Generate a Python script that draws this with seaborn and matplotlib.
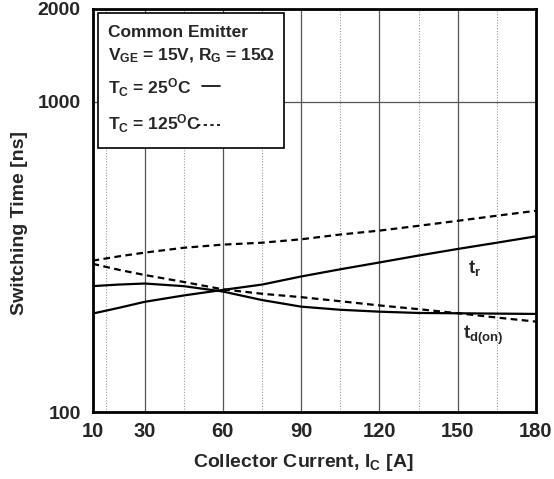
import numpy as np
import pandas as pd
import matplotlib
matplotlib.use("Agg")
import matplotlib.pyplot as plt
import seaborn as sns
from matplotlib.patches import Rectangle
from matplotlib.lines import Line2D
from matplotlib.ticker import FixedLocator, NullLocator

# ---- data ----
current = [10, 20, 30, 45, 60, 75, 90, 105, 120, 135, 150, 165, 180]
tr_25 = [208, 217, 227, 238, 248, 258, 274, 289, 304, 320, 336, 352, 369]
tdon_25 = [255, 258, 260, 255, 245, 230, 219, 214, 211, 209, 208.5, 208, 207.5]
tr_125 = [308, 318, 327, 339, 347, 352, 361, 374, 385, 399, 414, 430, 446]
tdon_125 = [301, 288, 277, 263, 249, 241, 235, 228, 221, 215, 208.6, 202, 196]

x_major = [10, 30, 60, 90, 120, 150, 180]
x_minor = [15, 45, 75, 105, 135, 165]
y_ticks = [100, 1000, 2000]

rows = []
for name, temp, vals in [("tr_25", "25", tr_25), ("tdon_25", "25", tdon_25),
                         ("tr_125", "125", tr_125), ("tdon_125", "125", tdon_125)]:
    for c, v in zip(current, vals):
        rows.append({"current": c, "time": v, "series": name, "temp": temp})
df = pd.DataFrame(rows)

sns.set_style("white")
plt.rcParams["font.family"] = ["Liberation Sans", "DejaVu Sans"]
plt.rcParams["font.weight"] = "bold"
plt.rcParams["mathtext.fontset"] = "custom"
plt.rcParams["mathtext.rm"] = "Liberation Sans:bold"
plt.rcParams["mathtext.it"] = "Liberation Sans:bold"
plt.rcParams["mathtext.bf"] = "Liberation Sans:bold"

fig = plt.figure(figsize=(5.54, 4.79), dpi=100)
ax = fig.add_axes([0.16697, 0.1392, 0.8005, 0.843])

sns.lineplot(data=df, x="current", y="time", units="series", style="temp",
             estimator=None, sort=False, color="black",
             dashes={"25": "", "125": (3, 2)}, linewidth=1.6,
             legend=False, ax=ax, zorder=4)

ax.set_yscale("log")
ax.set_xlim(10, 180)
ax.set_ylim(100, 2000)
ax.yaxis.set_major_locator(FixedLocator(y_ticks))
ax.yaxis.set_minor_locator(NullLocator())
ax.set_yticklabels([str(t) for t in y_ticks], fontsize=14, fontweight="bold")
ax.xaxis.set_major_locator(FixedLocator(x_major))
ax.xaxis.set_minor_locator(FixedLocator(x_minor))
ax.set_xticklabels([str(t) for t in x_major], fontsize=14.5, fontweight="bold")

ax.grid(which="major", axis="both", color="#555555", lw=0.9, ls="-", zorder=1)
ax.grid(which="minor", axis="x", color="#999999", lw=0.8, ls=(0, (1, 1.5)), zorder=1)
ax.set_axisbelow(True)
ax.tick_params(which="both", length=0)
ax.tick_params(axis="x", pad=7)
ax.tick_params(axis="y", pad=8.5)
for s in ax.spines.values():
    s.set_linewidth(2)
    s.set_color("black")

ax.set_xlabel("")
ax.set_ylabel("")
fig.text(303.3 / 554, (479 - 467) / 479, "Collector Current, I$_\\mathrm{C}$ [A]",
         fontsize=14, fontweight="bold", ha="center", va="baseline")
ax.text(-0.165, 0.47, "Switching Time [ns]", transform=ax.transAxes, rotation=90,
        fontsize=14, fontweight="bold", ha="center", va="center")

# curve labels
ax.text(153.9, 282, "t$_\\mathrm{r}$", fontsize=13.5, fontweight="bold", va="baseline", ha="left")
ax.text(151.9, 172, "t$_\\mathrm{d(on)}$", fontsize=13.5, fontweight="bold", va="baseline", ha="left")

# legend box
ax.add_patch(Rectangle((0.0117, 0.654), 0.4203, 0.3356, transform=ax.transAxes,
                       facecolor="white", edgecolor="black", lw=1.2, zorder=5))
tx = 0.0356
for yy, s in [(0.9287, "Common Emitter"),
              (0.8725, "V$_\\mathrm{GE}$ = 15V, R$_\\mathrm{G}$ = 15\u03a9"),
              (0.790, "T$_\\mathrm{C}$ = 25$^\\mathrm{O}$C"),
              (0.699, "T$_\\mathrm{C}$ = 125$^\\mathrm{O}$C")]:
    ax.text(tx, yy, s, transform=ax.transAxes, fontsize=12.5, fontweight="bold",
            va="baseline", ha="left", zorder=6)
ax.add_line(Line2D([0.246, 0.288], [0.808, 0.808], transform=ax.transAxes,
                   color="black", lw=1.2, zorder=6))
ax.add_line(Line2D([0.2367, 0.288], [0.712, 0.712], transform=ax.transAxes,
                   color="black", lw=1.2, ls=(0, (2, 2)), zorder=6))

fig.savefig("out.png", dpi=100)
